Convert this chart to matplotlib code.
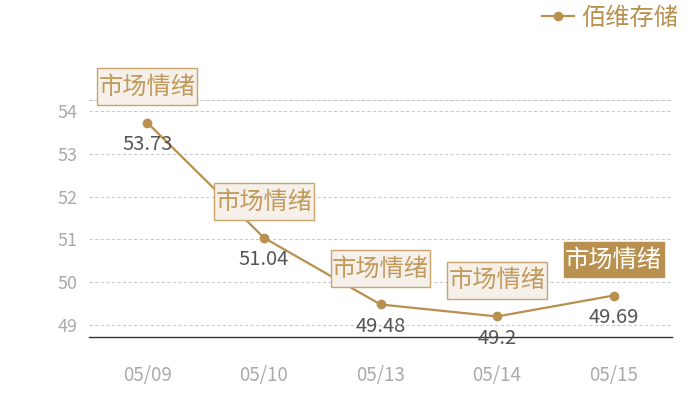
import matplotlib
matplotlib.use("Agg")
import matplotlib.pyplot as plt
from matplotlib.path import Path

plt.rcParams['font.family'] = ['Noto Sans CJK SC', 'DejaVu Sans']

dates = ["05/09", "05/10", "05/13", "05/14", "05/15"]
values = [53.73, 51.04, 49.48, 49.2, 49.69]
value_labels = ["53.73", "51.04", "49.48", "49.2", "49.69"]
tag_text = "市场情绪"
highlight = [False, False, False, False, True]
series_name = "佰维存储"
yticks = [49, 50, 51, 52, 53, 54]

gold = "#b8904f"


class PadBox:
    def __init__(self, px, py):
        self.px, self.py = px, py

    def __call__(self, x0, y0, width, height, mutation_size):
        px = self.px * mutation_size
        py = self.py * mutation_size
        x0, y0 = x0 - px, y0 - py
        x1, y1 = x0 + width + 2 * px, y0 + height + 2 * py
        return Path([(x0, y0), (x1, y0), (x1, y1), (x0, y1), (x0, y0)], closed=True)


fig = plt.figure(figsize=(7, 4), dpi=100)
ax = fig.add_axes([89/700, 63/400, 583/700, 237/400])

x = list(range(len(dates)))
line, = ax.plot(x, values, color=gold, lw=1.6, marker='o', markersize=7,
                markeredgewidth=0, label=series_name, zorder=3)

ax.set_xlim(-0.5, len(dates) - 0.5)
ax.set_ylim(48.72, 54.26)
ax.set_yticks(yticks)
ax.set_yticklabels([str(t) for t in yticks])
ax.set_xticks(x)
ax.set_xticklabels(dates)
ax.tick_params(axis='y', length=0, pad=8, labelsize=13, labelcolor="#aaaaaa")
ax.tick_params(axis='x', length=0, pad=20, labelsize=13.5, labelcolor="#aaaaaa")
ax.grid(axis='y', color="#cccccc", linestyle=(0, (3, 2)), linewidth=0.8)
ax.set_axisbelow(True)
for s in ['left', 'right']:
    ax.spines[s].set_visible(False)
ax.spines['top'].set_color("#cccccc")
ax.spines['top'].set_linestyle((0, (3, 2)))
ax.spines['top'].set_linewidth(0.8)
ax.spines['bottom'].set_color("#333333")
ax.spines['bottom'].set_linewidth(1.0)

for xi, v, lab, hl in zip(x, values, value_labels, highlight):
    ax.annotate(lab, (xi, v), xytext=(0, -16), textcoords='offset points',
                ha='center', va='center', fontsize=14.5, color="#555555", zorder=4)
    if hl:
        bbox = dict(boxstyle=PadBox(0.06, 0.17), facecolor=gold, edgecolor=gold, lw=1)
        tc = "white"
    else:
        bbox = dict(boxstyle=PadBox(0.06, 0.22), facecolor="#f5f0e9", edgecolor="#c9a46c", lw=1)
        tc = "#c19a5c"
    ax.annotate(tag_text, (xi, v), xytext=(0, 26), textcoords='offset points',
                ha='center', va='center', fontsize=17.5, color=tc, bbox=bbox,
                zorder=5, annotation_clip=False)

fig.legend(handles=[line], loc='center right', bbox_to_anchor=(678/700, 1 - 18/400),
           frameon=False, fontsize=17.5, labelcolor=gold, handlelength=1.3,
           handletextpad=0.3, borderaxespad=0, borderpad=0)

fig.savefig("out.png", dpi=100)
